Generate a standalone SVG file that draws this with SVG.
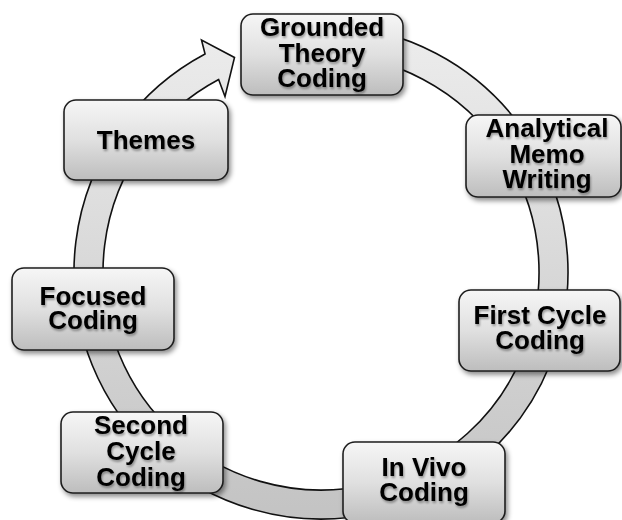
<svg xmlns="http://www.w3.org/2000/svg" width="622" height="520" viewBox="0 0 622 520">
  <defs>
    <!-- box fill: light top fading to mid grey at the bottom -->
    <linearGradient id="boxFill" x1="0" y1="0" x2="0" y2="1">
      <stop offset="0" stop-color="#f6f6f6"/>
      <stop offset="0.5" stop-color="#e0e0e0"/>
      <stop offset="1" stop-color="#bdbdbd"/>
    </linearGradient>
    <!-- ring fill: lighter at the top, darker towards the bottom -->
    <linearGradient id="ringFill" gradientUnits="userSpaceOnUse" x1="0" y1="25" x2="0" y2="520">
      <stop offset="0" stop-color="#ededed"/>
      <stop offset="1" stop-color="#c3c3c3"/>
    </linearGradient>
    <filter id="boxShadow" x="-10%" y="-10%" width="125%" height="130%">
      <feDropShadow dx="2" dy="3" stdDeviation="2.5" flood-color="#000" flood-opacity="0.45"/>
    </filter>
    <filter id="textShadow" x="-10%" y="-20%" width="120%" height="150%">
      <feDropShadow dx="1" dy="2" stdDeviation="1.2" flood-color="#000" flood-opacity="0.35"/>
    </filter>
  </defs>
  <style>
    .box { fill: url(#boxFill); stroke: #1e1e1e; stroke-width: 1.6; filter: url(#boxShadow); }
    .ring { fill: url(#ringFill); stroke: #111; stroke-width: 1.6; stroke-linejoin: miter; }
    .label { font-family: "Liberation Sans", Arial, sans-serif; font-weight: bold; font-size: 26px; fill: #000; text-anchor: middle; filter: url(#textShadow); }
  </style>

  <rect width="622" height="520" fill="#fff"/>

  <!-- continuous circular arrow: centre (321,272), outer r 247, inner r 218 -->
  <g id="connectors">
    <path class="ring" d="M 329.62 25.15 A 247 247 0 1 1 205.03 53.92 L 201.5 40 L 234.5 57.5 L 225 96.5 L 218.65 79.53 A 218 218 0 1 0 328.61 54.13 Z"/>
  </g>

  <g id="grounded-theory-coding">
    <rect class="box" x="241" y="14" width="162" height="81" rx="12"/>
    <text class="label" x="322"><tspan x="322" y="36">Grounded</tspan><tspan x="322" y="61.5">Theory</tspan><tspan x="322" y="87">Coding</tspan></text>
  </g>

  <g id="analytical-memo-writing">
    <rect class="box" x="466" y="115" width="155" height="82" rx="12"/>
    <text class="label" x="547"><tspan x="547" y="137">Analytical</tspan><tspan x="547" y="162.5">Memo</tspan><tspan x="547" y="188">Writing</tspan></text>
  </g>

  <g id="first-cycle-coding">
    <rect class="box" x="459" y="290" width="161" height="81" rx="12"/>
    <text class="label" x="540"><tspan x="540" y="324">First Cycle</tspan><tspan x="540" y="349">Coding</tspan></text>
  </g>

  <g id="in-vivo-coding">
    <rect class="box" x="343" y="442" width="162" height="81" rx="12"/>
    <text class="label" x="424"><tspan x="424" y="476">In Vivo</tspan><tspan x="424" y="501">Coding</tspan></text>
  </g>

  <g id="second-cycle-coding">
    <rect class="box" x="61" y="412" width="162" height="81" rx="12"/>
    <text class="label" x="141"><tspan x="141" y="433.5">Second</tspan><tspan x="141" y="459.5">Cycle</tspan><tspan x="141" y="485.5">Coding</tspan></text>
  </g>

  <g id="focused-coding">
    <rect class="box" x="12" y="268" width="162" height="82" rx="12"/>
    <text class="label" x="93"><tspan x="93" y="304.5">Focused</tspan><tspan x="93" y="329">Coding</tspan></text>
  </g>

  <g id="themes">
    <rect class="box" x="64" y="100" width="164" height="80" rx="12"/>
    <text class="label" x="146" y="148.5">Themes</text>
  </g>
</svg>
